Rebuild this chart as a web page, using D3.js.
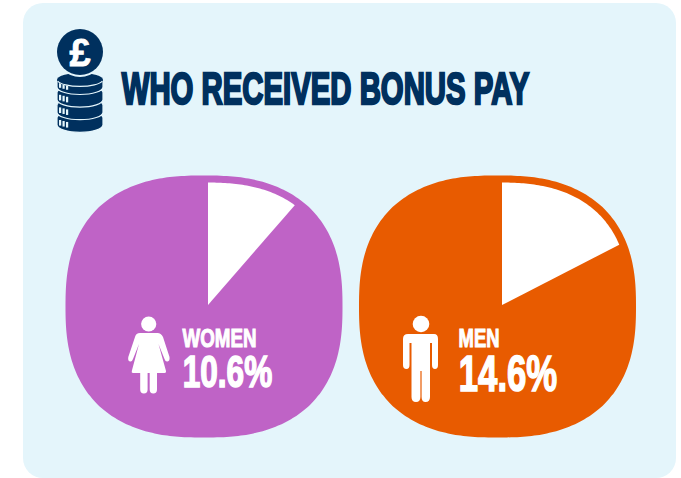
<!DOCTYPE html>
<html><head><meta charset="utf-8">
<script src="https://cdn.jsdelivr.net/npm/d3@7"></script>
<style>html,body{margin:0;padding:0;background:#fff}svg{display:block}
text{font-family:"Liberation Sans Narrow","Liberation Sans",sans-serif;font-weight:700}</style>
</head><body><svg id="c" width="681" height="478"></svg>
<script>
const title = "WHO RECEIVED BONUS PAY";
const categories = ["WOMEN", "MEN"];
const shares = [10.6, 14.6];
const wedgeAngles = [41, 62.8];
const colors = ["#bf63c6", "#e85b00"];
const blobCx = [204, 497.5];
const apexX = [208, 502];
const labelX = [182, 458];
const labelWidths = [75, 42];
const valueWidths = [91, 100];
const valueBottoms = [387.3, 391.5];
const navy = "#00305e", panel = "#e4f5fb";

const svg = d3.select("#c");
svg.append("rect").attr("x",23).attr("y",3).attr("width",653).attr("height",475).attr("rx",20).attr("fill",panel);

function capText(g,str,x,top,bottom,w,fill,sw){
  const t = g.append("text").text(str)
    .attr("font-size",(bottom-top-sw)/0.688)
    .attr("fill",fill).attr("stroke",fill).attr("stroke-width",sw).attr("stroke-linejoin","miter");
  const sx = (w-sw)/t.node().getComputedTextLength();
  t.attr("transform",`translate(${x+sw/2},${bottom-sw/2}) scale(${sx},1)`);
  return t;
}
capText(svg,title,120.5,71.7,105,410,navy,2.4);

// coin stack: four layers, drawn from the bottom up
const coins = svg.append("g");
const layers = [0,1,2,3];
layers.slice().reverse().forEach(i=>{
  const y = 80+i*12.6;
  coins.append("path").attr("d",`M57 ${y} A23 7 0 0 1 103 ${y} V${y+7} A23 7.5 0 0 1 57 ${y+7} Z`)
    .attr("fill",navy).attr("stroke",panel).attr("stroke-width",1.2);
  [60,63.5,67].forEach(x=>coins.append("rect").attr("x",x-1).attr("y",y+2.2+(x-60)*0.28).attr("width",2.2).attr("height",5.6).attr("fill",panel));
});
coins.append("ellipse").attr("cx",80).attr("cy",80).attr("rx",23).attr("ry",7).attr("fill",navy);
coins.append("path").attr("d","M57.6 81 A23 7 0 0 0 102.4 81").attr("fill","none").attr("stroke",panel).attr("stroke-width",1.2);
coins.append("circle").attr("cx",80).attr("cy",52).attr("r",25).attr("fill",panel);
coins.append("circle").attr("cx",80).attr("cy",52).attr("r",23).attr("fill",navy);
coins.append("text").text("£").attr("x",80).attr("y",66).attr("text-anchor","middle")
  .attr("font-size",38).attr("fill","#fff").style("font-family","Liberation Sans").attr("stroke","#fff").attr("stroke-width",.8);

// superellipse helpers
const N = 2.5, A = 138.5, B = 131, CY = 306.5;
const sample = d3.range(0,360,2);
const rad = d3.scaleLinear().domain([0,360]).range([0,2*Math.PI]);
function blobPoints(cx,a,b){
  return sample.map(d=>{const t=rad(d),c=Math.cos(t),s=Math.sin(t);
    return [cx+a*Math.sign(c)*Math.pow(Math.abs(c),2/N), CY+b*Math.sign(s)*Math.pow(Math.abs(s),2/N)];});
}
const line = d3.line().curve(d3.curveCatmullRomClosed);
const inset = 7;
const apexY = 305;
categories.forEach((cat,i)=>{
  const g = svg.append("g");
  const cx = blobCx[i];
  g.append("path").attr("d",line(blobPoints(cx,A,B))).attr("fill",colors[i]);
  const a=A-inset,b=B-inset;
  const ray = deg=>{
    const t=rad(deg),dx=Math.sin(t),dy=-Math.cos(t);
    let lo=0,hi=300;
    for(let k=0;k<30;k++){const r=(lo+hi)/2;
      const v=Math.pow(Math.abs(apexX[i]+r*dx-cx)/a,N)+Math.pow(Math.abs(apexY+r*dy-CY)/b,N);
      if(v<1)lo=r;else hi=r;}
    return [apexX[i]+lo*dx,apexY+lo*dy];
  };
  const arc = d3.range(0,wedgeAngles[i],1).concat([wedgeAngles[i]]).map(ray);
  g.append("path").attr("d",d3.line()([[apexX[i],apexY],...arc])+"Z").attr("fill","#fff");
  capText(g,cat,labelX[i],328.3,347.7,labelWidths[i],"#fff",1.1);
  capText(g,shares[i].toFixed(1)+"%",labelX[i],355,valueBottoms[i],valueWidths[i],"#fff",1.6);
});

// woman
const w = svg.append("g").attr("fill","#fff");
w.append("circle").attr("cx",148.7).attr("cy",324).attr("r",7.6);
w.append("path").attr("d","M140 333 H157.5 Q161 333 163 337 L169.5 357 Q170 361 167.5 361.5 Q165.5 362 164.5 359 L158.5 344 L166 371 Q166.5 373 164.5 373 H133 Q131.2 373 131.8 371 L139 344 L133 359 Q132 362 130 361.5 Q127.6 361 128.3 357 L135 337 Q136 333 140 333 Z");
w.append("path").attr("d","M140.2 371 H147.6 V389.5 Q147.6 393.5 143.9 393.5 Q140.2 393.5 140.2 389.5 Z M149.7 371 H157 V389.5 Q157 393.5 153.3 393.5 Q149.7 393.5 149.7 389.5 Z");
// man
const m = svg.append("g").attr("fill","#fff");
m.append("circle").attr("cx",421).attr("cy",324).attr("r",8.3);
m.append("path").attr("d","M408 334 H434 Q438 334 438 339 V365 Q438 369 435 369 Q432 369 432 365 V343 H430 V397 Q430 402 425.5 402 Q421.6 402 421.6 397 V371 H420.4 V397 Q420.4 402 416 402 Q411.5 402 411.5 397 V343 H409.5 V365 Q409.5 369 406.5 369 Q403 369 403 365 V339 Q403 334 408 334 Z");
</script></body></html>
